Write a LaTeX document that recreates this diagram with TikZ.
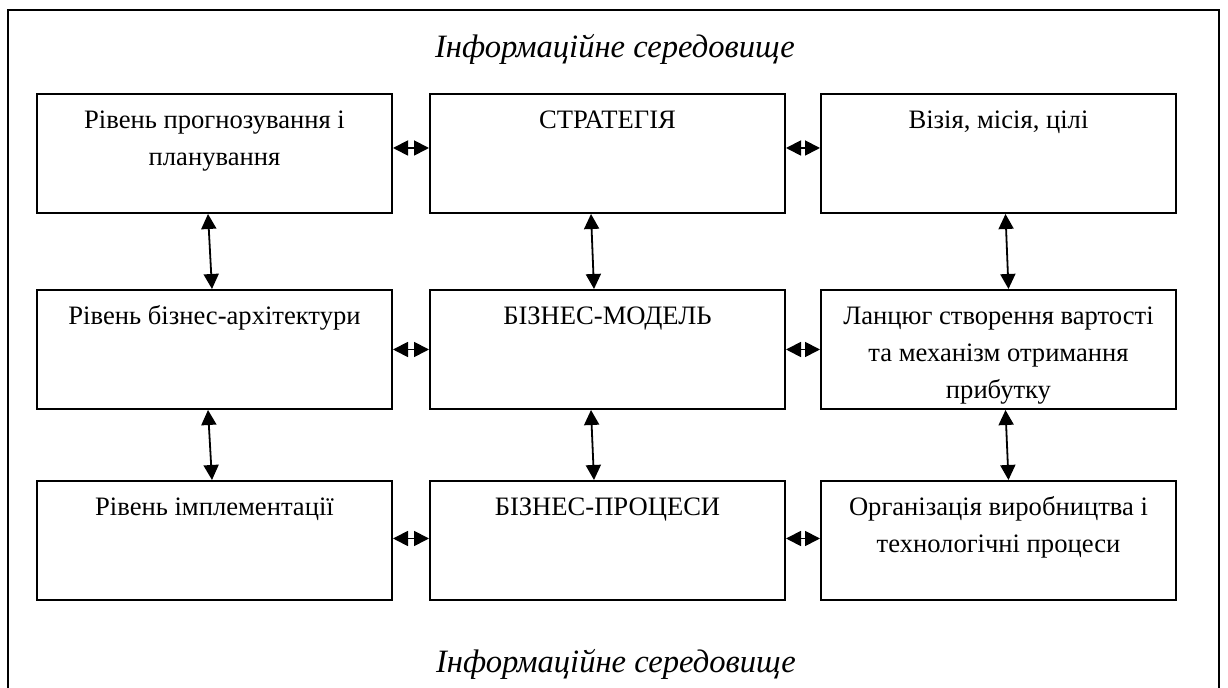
\documentclass[tikz,border=0pt]{standalone}
\usepackage{fontspec}
\setmainfont{Liberation Serif}
\usetikzlibrary{positioning}
\usetikzlibrary{arrows.meta}
\tikzstyle{lvlnode} = [draw, rectangle, line width=1pt, minimum width=177.5pt, minimum height=59.5pt, inner sep=0pt, font=\fontsize{13.3}{18.5}\selectfont]
\tikzstyle{envnode} = [anchor=base, inner sep=0pt, font=\fontsize{16.3}{20}\selectfont\itshape]
\tikzstyle{link} = [{Triangle[length=7.5pt,width=7.5pt]}-{Triangle[length=7.5pt,width=7.5pt]}, line width=0.9pt]
\newcommand{\lvltext}[1]{\parbox[c][50.4pt][t]{175pt}{\centering\strut #1}}

\begin{document}
\begin{tikzpicture}[x=0.5pt, y=-0.5pt]
  \useasboundingbox (0,0) rectangle (1228,688);
  \draw[line width=0.8pt] (8,10) rectangle (1219,720);

  \node[envnode] (envtop) at (615,58) {Інформаційне середовище};
  \node[envnode] (envbot) at (616,673) {Інформаційне середовище};

  \node[lvlnode] (plan) at (214.5,153.5) {\lvltext{Рівень прогнозування і\\ планування}};
  \node[lvlnode, right=18pt of plan] (strat) {\lvltext{СТРАТЕГІЯ}};
  \node[lvlnode, right=17pt of strat] (vision) {\lvltext{Візія, місія, цілі}};

  \node[lvlnode, below=37.5pt of plan] (arch) {\lvltext{Рівень бізнес-архітектури}};
  \node[lvlnode, below=37.5pt of strat] (model) {\lvltext{БІЗНЕС-МОДЕЛЬ}};
  \node[lvlnode, below=37.5pt of vision] (chain) {\lvltext{Ланцюг створення вартості\\ та механізм отримання\\ прибутку}};

  \node[lvlnode, below=35pt of arch] (impl) {\lvltext{Рівень імплементації}};
  \node[lvlnode, below=35pt of model] (proc) {\lvltext{БІЗНЕС-ПРОЦЕСИ}};
  \node[lvlnode, below=35pt of chain] (org) {\lvltext{Організація виробництва і\\ технологічні процеси}};

  % horizontal links
  \draw[link] ([yshift=2.75pt]plan.east) -- ([yshift=2.75pt]strat.west);
  \draw[link] ([yshift=2.75pt]strat.east) -- ([yshift=2.75pt]vision.west);
  \draw[link] (arch.east) -- (model.west);
  \draw[link] (model.east) -- (chain.west);
  \draw[link] ([yshift=1pt]impl.east) -- ([yshift=1pt]proc.west);
  \draw[link] ([yshift=1pt]proc.east) -- ([yshift=1pt]org.west);

  % vertical links
  \draw[link] ([xshift=-3.25pt]plan.south) -- ([xshift=-1.25pt]arch.north);
  \draw[link] ([xshift=-8.25pt]strat.south) -- ([xshift=-6.75pt]model.north);
  \draw[link] ([xshift=3.5pt]vision.south) -- ([xshift=5pt]chain.north);
  \draw[link] ([xshift=-3.25pt]arch.south) -- ([xshift=-1.25pt]impl.north);
  \draw[link] ([xshift=-8.25pt]model.south) -- ([xshift=-6.75pt]proc.north);
  \draw[link] ([xshift=3.5pt]chain.south) -- ([xshift=5pt]org.north);
\end{tikzpicture}
\end{document}
